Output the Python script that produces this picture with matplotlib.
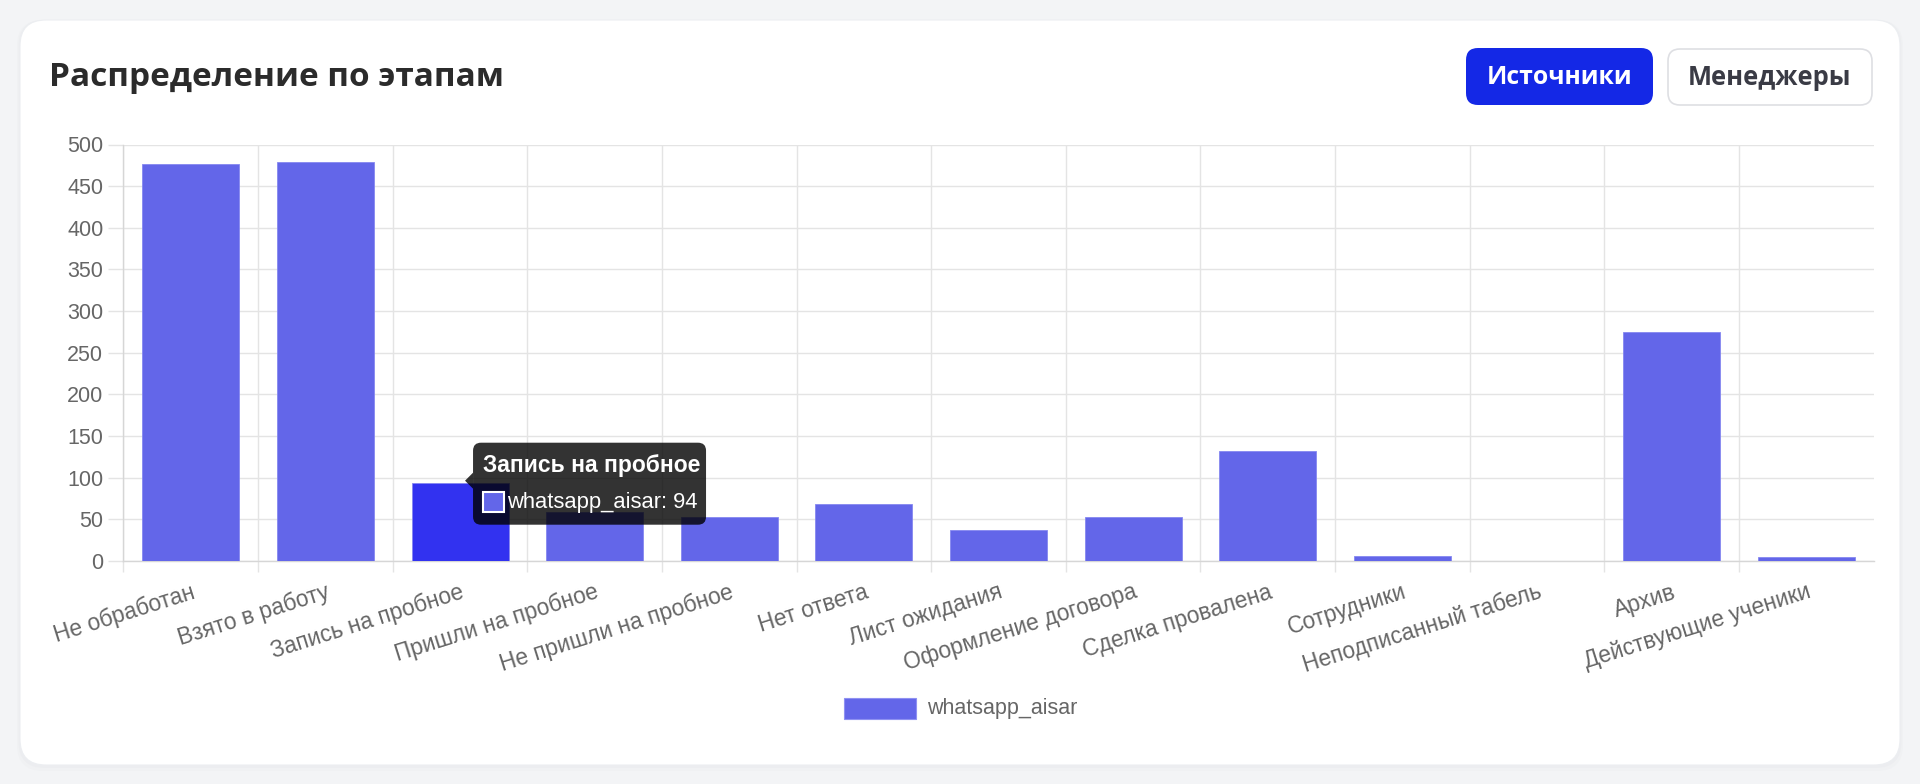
import numpy as np
import matplotlib
matplotlib.use('Agg')
import matplotlib.pyplot as plt
from matplotlib.patches import FancyBboxPatch, Rectangle, Polygon

# data
stages = ['Не обработан', 'Взято в работу', 'Запись на пробное', 'Пришли на пробное',
          'Не пришли на пробное', 'Нет ответа', 'Лист ожидания', 'Оформление договора',
          'Сделка провалена', 'Сотрудники', 'Неподписанный табель', 'Архив',
          'Действующие ученики']
counts = [476, 479, 94, 59, 53, 69, 37, 53, 132, 6, 0, 275, 5]
series_name = 'whatsapp_aisar'
hover_idx = 2
y_ticks = list(range(0, 501, 50))

title = 'Распределение по этапам'
btn_active = 'Источники'
btn_other = 'Менеджеры'

bar_color = '#6366e9'
hover_color = '#3232f0'
grid_color = '#e4e4e4'
tick_color = '#666666'

W, H = 1920, 784
fig = plt.figure(figsize=(W / 100, H / 100), dpi=100)
fig.patch.set_facecolor('#f3f4f6')

# background layer in pixel coords (y down)
bg = fig.add_axes([0, 0, 1, 1], zorder=0)
bg.set_xlim(0, W)
bg.set_ylim(H, 0)
bg.axis('off')

for off, a in [(6, 0.03), (3, 0.04)]:
    bg.add_patch(FancyBboxPatch((20 - off / 2, 20), 1880 + off, 745 + off,
                                boxstyle='round,pad=0,rounding_size=26',
                                facecolor='#9aa0ad', edgecolor='none', alpha=a))
bg.add_patch(FancyBboxPatch((20, 20), 1880, 745, boxstyle='round,pad=0,rounding_size=26',
                            facecolor='white', edgecolor='#eceef1', linewidth=0.8))

renderer = fig.canvas.get_renderer()


def fit_size(txt, width, **kw):
    t = bg.text(0, 0, txt, fontsize=20, **kw)
    w = t.get_window_extent(renderer).width
    t.remove()
    return 20 * width / w


head_font = ['Open Sans', 'DejaVu Sans']
bg.text(49, 77, title, va='center', ha='left', color='#2b2b2b', family=head_font, weight='bold',
        fontsize=fit_size(title, 455, family=head_font, weight='bold'))

bg.add_patch(FancyBboxPatch((1466, 48), 187, 57, boxstyle='round,pad=0,rounding_size=12',
                            facecolor='#1428e6', edgecolor='none'))
bg.text(1559.5, 77, btn_active, ha='center', va='center', color='white', family=head_font,
        weight='bold', fontsize=fit_size(btn_active, 145, family=head_font, weight='bold'))
bg.add_patch(FancyBboxPatch((1668, 49), 204, 56, boxstyle='round,pad=0,rounding_size=12',
                            facecolor='white', edgecolor='#dedfe3', linewidth=1.2))
bg.text(1770, 77, btn_other, ha='center', va='center', color='#3a3b45', family=head_font,
        weight='bold', fontsize=fit_size(btn_other, 164, family=head_font, weight='bold'))

# legend
bg.add_patch(Rectangle((844, 698), 72, 21, facecolor=bar_color, edgecolor='#8f91f2', linewidth=0.8))
bg.text(927, 708.5, series_name, va='center', ha='left', color=tick_color,
        family='Liberation Sans', fontsize=15.5)

# chart
ax = fig.add_axes([123.5 / W, 1 - 561 / H, 1750 / W, 416.5 / H], zorder=1)
ax.patch.set_alpha(0)
x = np.arange(len(stages))
colors = [hover_color if i == hover_idx else bar_color for i in x]
ax.bar(x, counts, width=0.72, color=colors, edgecolor='#8587f0', linewidth=0.6, zorder=3)
ax.set_xlim(-0.5, len(stages) - 0.5)
ax.set_ylim(0, 500)
ax.set_yticks(y_ticks)
ax.set_xticks(x)
ax.set_xticklabels(stages, rotation=17.5, ha='right', rotation_mode='anchor')
ax.set_xticks(x - 0.5, minor=True)
ax.set_axisbelow(True)
ax.grid(which='major', axis='y', color=grid_color, linewidth=1.0)
ax.grid(which='minor', axis='x', color=grid_color, linewidth=1.0)
for s in ['top', 'right']:
    ax.spines[s].set_visible(False)
for s in ['left', 'bottom']:
    ax.spines[s].set_color('#d6d6d6')
    ax.spines[s].set_linewidth(1.0)
ax.tick_params(axis='y', length=11, width=1.0, color=grid_color, pad=3.5,
               labelsize=15.5, labelcolor=tick_color)
ax.tick_params(axis='x', which='major', length=0, pad=14, labelsize=16.3, labelcolor=tick_color)
ax.tick_params(axis='x', which='minor', length=8, width=1.0, color=grid_color)
for lbl in ax.get_xticklabels() + ax.get_yticklabels():
    lbl.set_family('Liberation Sans')

# tooltip over hovered bar
top = fig.add_axes([0, 0, 1, 1], zorder=2)
top.set_xlim(0, W)
top.set_ylim(H, 0)
top.axis('off')
px, py = ax.transData.transform((hover_idx, counts[hover_idx]))
py = H - py
tip_x, tip_y = px + 5, py - 2
x0 = tip_x + 8
y0 = tip_y - 38
tip_alpha = 0.8
top.add_patch(FancyBboxPatch((x0, y0), 233, 82, boxstyle='round,pad=0,rounding_size=8',
                             facecolor='black', edgecolor='none', alpha=tip_alpha))
top.add_patch(Polygon([(tip_x, tip_y), (x0, tip_y - 8), (x0, tip_y + 8)],
                      closed=True, facecolor='black', edgecolor='none', alpha=tip_alpha))
top.text(x0 + 10, y0 + 23, stages[hover_idx], va='center', ha='left', color='white',
         family='Liberation Sans', weight='bold', fontsize=16.5)
top.add_patch(Rectangle((x0 + 10, y0 + 49), 21, 20, facecolor=bar_color, edgecolor='white', linewidth=1.5))
top.text(x0 + 34, y0 + 60, f'{series_name}: {counts[hover_idx]}', va='center', ha='left',
         color='white', family='Liberation Sans', fontsize=15.8)

fig.savefig('out.png', dpi=100, facecolor=fig.get_facecolor())
